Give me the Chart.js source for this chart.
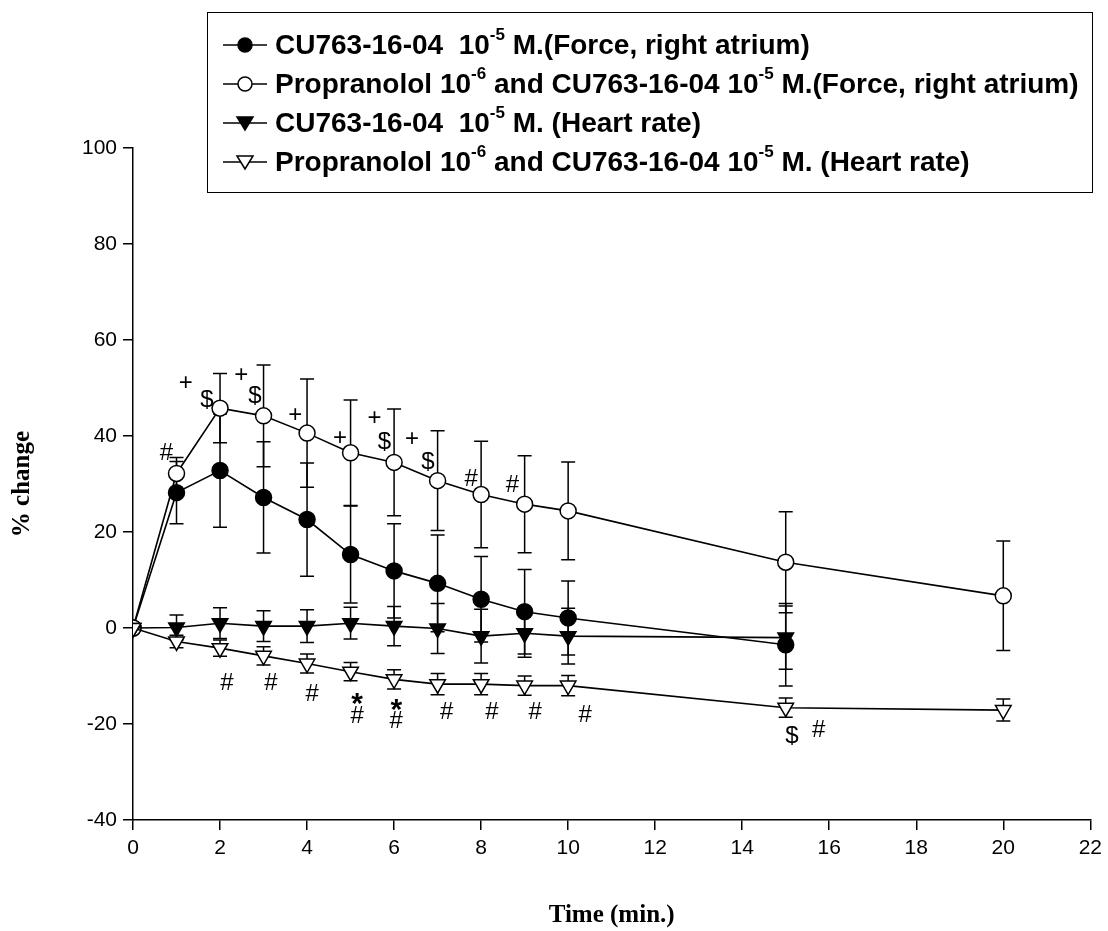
<!DOCTYPE html>
<html>
<head>
<meta charset="utf-8">
<script src="https://cdn.jsdelivr.net/npm/chart.js@4.4.0/dist/chart.umd.min.js"></script>
<style>
body{margin:0;background:#fff}
#wrap{position:relative;width:1108px;height:931px}
#legend{position:absolute;left:207px;top:12px;width:886px;height:181px;border:1.5px solid #000;box-sizing:border-box;
  font:bold 28px "Liberation Sans",Arial,sans-serif;color:#000;padding:12px 0 0 15px}
.row{height:39px;display:flex;align-items:center;white-space:nowrap}
.row svg{margin-right:8px;flex:none}
sup{font-size:17px;line-height:0;position:relative;top:-3px}
</style>
</head>
<body>
<div id="wrap">
  <canvas id="c" width="1108" height="931"></canvas>
  <div id="legend"></div>
</div>
<script>
// time points (min.)
const TIME = [0, 1, 2, 3, 4, 5, 6, 7, 8, 9, 10, 15, 20];

// CU763-16-04 force (filled circle)
const cuForce   = [0, 28.2, 32.8, 27.2, 22.6, 15.3, 11.9, 9.3, 6.0, 3.4, 2.1, -3.5, null];
const cuForceSE = [0, 6.5, 11.8, 11.6, 11.8, 10.1, 9.8, 10.1, 8.9, 8.8, 7.7, 8.6, null];
// propranolol + CU763-16-04 force (open circle)
const prForce   = [0, 32.2, 45.8, 44.2, 40.6, 36.5, 34.5, 30.7, 27.8, 25.8, 24.4, 13.7, 6.7];
const prForceSE = [0, 3.3, 7.2, 10.6, 11.3, 11.0, 11.1, 10.4, 11.1, 10.1, 10.2, 10.5, 11.4];
// CU763-16-04 heart rate (filled triangle)
const cuHR      = [0, 0.1, 1.0, 0.4, 0.4, 1.0, 0.4, -0.1, -1.7, -1.1, -1.7, -2.0, null];
const cuHRSE    = [0, 2.6, 3.2, 3.2, 3.4, 3.3, 4.1, 5.2, 5.6, 5.0, 5.8, 6.6, null];
// propranolol + CU763-16-04 heart rate (open triangle)
const prHR      = [0, -2.8, -4.2, -5.8, -7.4, -9.1, -10.7, -11.7, -11.7, -12.0, -12.0, -16.6, -17.1];
const prHRSE    = [0, 1.3, 1.7, 1.9, 2.0, 1.9, 2.0, 2.2, 2.2, 2.0, 2.1, 2.0, 2.3];

// significance marks: symbol, time, value
const markSym = ['#', '+', '$', '+', '$', '+', '+', '+', '$', '+', '$', '#', '#',
                 '#', '#', '#', '*', '#', '*', '#', '#', '#', '#', '#', '$', '#'];
const markT   = [0.77, 1.21, 1.70, 2.49, 2.80, 3.73, 4.76, 5.55, 5.78, 6.41, 6.78, 7.77, 8.72,
                 2.16, 3.17, 4.12, 5.15, 5.15, 6.05, 6.05, 7.21, 8.25, 9.24, 10.39, 15.14, 15.76];
const markV   = [36.4, 51.0, 47.5, 52.7, 48.2, 44.2, 39.5, 43.7, 38.6, 39.2, 34.6, 31.0, 29.8,
                 -11.5, -11.5, -13.8, -14.6, -18.5, -15.8, -19.5, -17.6, -17.6, -17.6, -18.1, -22.6, -21.3];

const LABELS = [
  'CU763-16-04&nbsp; 10<sup>-5</sup> M.(Force, right atrium)',
  'Propranolol 10<sup>-6</sup> and CU763-16-04 10<sup>-5</sup> M.(Force, right atrium)',
  'CU763-16-04&nbsp; 10<sup>-5</sup> M. (Heart rate)',
  'Propranolol 10<sup>-6</sup> and CU763-16-04 10<sup>-5</sup> M. (Heart rate)'
];

const SERIES = [
  {mean: cuForce, se: cuForceSE, style: 'circle',   fill: '#000'},
  {mean: prForce, se: prForceSE, style: 'circle',   fill: '#fff'},
  {mean: cuHR,    se: cuHRSE,    style: 'triangle', fill: '#000'},
  {mean: prHR,    se: prHRSE,    style: 'triangle', fill: '#fff'}
];

const pts = arr => TIME.map((t, i) => ({x: t, y: arr[i]})).filter(p => p.y !== null);

const errorBars = {
  id: 'errorBars',
  beforeDatasetsDraw(chart) {
    const {ctx, scales: {x, y}} = chart;
    ctx.save();
    ctx.strokeStyle = '#000';
    ctx.lineWidth = 1.5;
    SERIES.forEach(s => {
      TIME.forEach((t, i) => {
        const m = s.mean[i], e = s.se[i];
        if (m === null || !e) return;
        const px = x.getPixelForValue(t);
        const top = y.getPixelForValue(m + e), bot = y.getPixelForValue(m - e);
        ctx.beginPath();
        ctx.moveTo(px, top); ctx.lineTo(px, bot);
        ctx.moveTo(px - 7, top); ctx.lineTo(px + 7, top);
        ctx.moveTo(px - 7, bot); ctx.lineTo(px + 7, bot);
        ctx.stroke();
      });
    });
    ctx.restore();
  }
};

const marks = {
  id: 'marks',
  afterDatasetsDraw(chart) {
    const {ctx, scales: {x, y}} = chart;
    ctx.save();
    ctx.fillStyle = '#000';
    ctx.textAlign = 'center';
    ctx.textBaseline = 'middle';
    markSym.forEach((s, i) => {
      const px = x.getPixelForValue(markT[i]), py = y.getPixelForValue(markV[i]);
      if (s === '*') {
        // asterisk sits high in the em box, so push it down
        ctx.font = 'bold 30px "Liberation Sans", Arial, sans-serif';
        ctx.fillText(s, px, py + 7);
      } else {
        ctx.font = '24px "Liberation Sans", Arial, sans-serif';
        ctx.fillText(s, px, py);
      }
    });
    ctx.restore();
  }
};

const tickFont = {family: '"Liberation Sans", Arial, sans-serif', size: 21};
const titleFont = {family: '"Liberation Serif", "Times New Roman", serif', size: 25, weight: 'bold'};

new Chart(document.getElementById('c'), {
  type: 'line',
  data: {
    datasets: SERIES.map((s, i) => ({
      label: 's' + i,
      data: pts(s.mean),
      borderColor: '#000',
      borderWidth: 1.6,
      pointStyle: s.style,
      pointRotation: s.style === 'triangle' ? 180 : 0,
      pointRadius: s.style === 'triangle' ? 9 : 8,
      pointBackgroundColor: s.fill,
      pointBorderColor: '#000',
      pointBorderWidth: 1.5,
      tension: 0,
      order: 3 - i
    }))
  },
  options: {
    responsive: false,
    animation: false,
    layout: {padding: {top: 148, right: 15, left: 0, bottom: 0}},
    plugins: {legend: {display: false}, tooltip: {enabled: false}},
    scales: {
      x: {
        type: 'linear', min: 0, max: 22,
        ticks: {stepSize: 2, color: '#000', font: tickFont, padding: 6, maxRotation: 0},
        grid: {drawOnChartArea: false, tickLength: 10, color: '#000', lineWidth: 1.5},
        border: {color: '#000', width: 1.5},
        title: {display: true, text: 'Time (min.)', color: '#000', font: titleFont, padding: {top: 10, bottom: 0}},
        afterFit(s) { s.height = 111; }
      },
      y: {
        min: -40, max: 100,
        ticks: {stepSize: 20, color: '#000', font: tickFont, padding: 6},
        grid: {drawOnChartArea: false, tickLength: 10, color: '#000', lineWidth: 1.5},
        border: {color: '#000', width: 1.5},
        title: {display: true, text: '% change', color: '#000', font: titleFont, padding: {top: 8, bottom: 0}},
        afterFit(s) { s.width = 133; }
      }
    }
  },
  plugins: [errorBars, marks]
});

// legend with superscripts
function symbol(s) {
  const mk = s.style === 'circle'
    ? `<circle cx="22" cy="11" r="7" fill="${s.fill}" stroke="#000" stroke-width="1.5"/>`
    : `<path d="M14,5 L30,5 L22,18 Z" fill="${s.fill}" stroke="#000" stroke-width="1.5"/>`;
  return `<svg width="44" height="22"><line x1="0" y1="11" x2="44" y2="11" stroke="#000" stroke-width="1.6"/>${mk}</svg>`;
}
document.getElementById('legend').innerHTML =
  SERIES.map((s, i) => `<div class="row">${symbol(s)}<span>${LABELS[i]}</span></div>`).join('');
</script>
</body>
</html>
